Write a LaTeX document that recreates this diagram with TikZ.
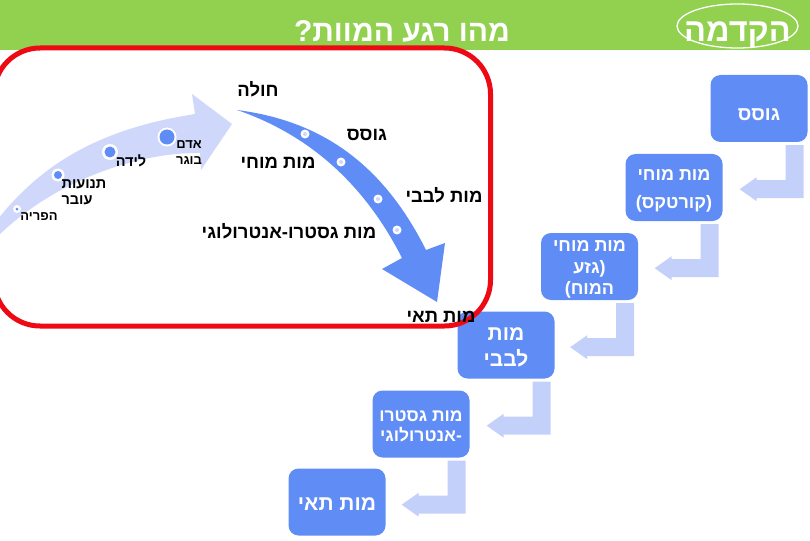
\documentclass[tikz,border=0pt]{standalone}
\usepackage{fontspec}
\usetikzlibrary{positioning,shapes.geometric}
\TeXXeTstate=1
\newfontfamily\hebfont[Script=Hebrew]{Liberation Sans}
\newcommand{\heb}[1]{\beginR #1\endR}
\definecolor{bandgreen}{HTML}{92D050}
\definecolor{boxblue}{HTML}{5F8CF5}
\definecolor{palearrow}{HTML}{CFD8FA}
\definecolor{bentblue}{HTML}{C3D0FA}
\definecolor{framered}{HTML}{EE0A14}
\tikzset{
  stagebox/.style={fill=boxblue,rounded corners=10pt,minimum width=97pt,minimum height=67pt,inner sep=0pt},
  boxtext/.style={align=center,text=white,inner sep=0pt,font=\hebfont\bfseries\fontsize{18}{24}\selectfont},
  arclabel/.style={text=black,font=\hebfont\bfseries\fontsize{18.5}{22}\selectfont,inner sep=0pt},
  smalllabel/.style={text=black,font=\hebfont\bfseries\fontsize{13}{16}\selectfont,inner sep=0pt},
  bentarrow/.style={fill=bentblue,draw=none},
}
\begin{document}
\begin{tikzpicture}[x=1pt,y=-1pt,line join=round]
\useasboundingbox (0,0) rectangle (810,540);
\clip (0,0) rectangle (810,540);
\fill[bandgreen] (0,0) rectangle (810,50);
\node[text=white,font=\hebfont\bfseries\fontsize{30}{34}\selectfont,inner sep=0pt] (title) at (402,31) {\heb{מהו רגע המוות?}};
\node[draw=white,line width=1.3pt,ellipse,minimum width=121pt,minimum height=44pt,inner sep=0pt] (section) at (737.5,26) {};
\node[text=white,inner sep=0pt,font=\hebfont\bfseries\fontsize{32.5}{36}\selectfont] (sectiontext) at ([yshift=-9pt]section.center) {\heb{הקדמה}};
% rising arrow
\fill[palearrow] (-2,219) .. controls (45,160) and (105,128) .. (195,114) -- (192,94) -- (232,124) -- (201,170)
  -- (200,153) .. controls (140,152) and (55,180) .. (-2,236) -- cycle;
% falling arrow
\fill[boxblue] (237,110) .. controls (315,120) and (380,158) .. (426,250) -- (445,243) -- (437,302) -- (382,269)
  -- (402,258) .. controls (365,185) and (310,135) .. (237,110) -- cycle;
\foreach \px/\py/\ro/\ri in {17/209/4/1.5,58/175/6.5/4,110/152/8/5.5,167/137/9.5/7.5}{
  \fill[white] (\px,\py) circle (\ro);
  \fill[boxblue] (\px,\py) circle (\ri);
}
\foreach \px/\py in {305/134,341/162,378/199,397/230}{
  \fill[white] (\px,\py) circle (4.5);
  \fill[palearrow] (\px,\py) circle (2);
}
% boxes
\node[stagebox] (gosses) at (759,108.5) {};
\node[stagebox] (cortex) at (674,187.5) {};
\node[stagebox] (stem) at (589.5,266.5) {};
\node[stagebox] (heart) at (506,345) {};
\node[stagebox] (gastro) at (421,424) {};
\node[stagebox] (cell) at (337,502) {};
\node[boxtext,font=\hebfont\bfseries\fontsize{19.5}{24}\selectfont] (gossestext) at ([yshift=-6pt]gosses.center) {\heb{גוסס}};
\node[boxtext] (cortextext) at ([yshift=-3.5pt]cortex.center) {\heb{מות מוחי}\\[4pt]\heb{(קורטקס)}};
\node[boxtext,font=\hebfont\bfseries\fontsize{18}{21.5}\selectfont] (stemtext) at ([yshift=-3pt]stem.center) {\heb{מות מוחי}\\\heb{(גזע}\\\heb{המוח)}};
\node[boxtext,font=\hebfont\bfseries\fontsize{21}{26}\selectfont] (hearttext) at ([yshift=-2.5pt]heart.center) {\heb{מות}\\\heb{לבבי}};
\node[boxtext,font=\hebfont\bfseries\fontsize{17.5}{20}\selectfont] (gastrotext) at ([yshift=-2pt]gastro.center) {\heb{מות גסטרו}\\\heb{-אנטרולוגי}};
\node[boxtext,font=\hebfont\bfseries\fontsize{21}{24}\selectfont] (celltext) at ([yshift=-2pt]cell.center) {\heb{מות תאי}};
% bent arrows
\foreach \from in {gosses,cortex,stem,heart,gastro}{
  \fill[bentarrow,shift={(\from.south east)}] (-22,3) -- (-4,3) -- (-4,56) -- (-51,56) -- (-51,59) -- (-68,47)
    -- (-51,35) -- (-51,38) -- (-22,38) -- cycle;
}
% frame
\draw[framered,line width=5pt,rounded corners=46pt] (-6,48) rectangle (490.5,326);
% labels
\node[arclabel] (sick) at (258,89) {\heb{חולה}};
\node[arclabel] (dying) at (367,135) {\heb{גוסס}};
\node[arclabel] (brain) at (278,163) {\heb{מות מוחי}};
\node[arclabel] (cardiac) at (444,195) {\heb{מות לבבי}};
\node[arclabel] (gi) at (289,231) {\heb{מות גסטרו-אנטרולוגי}};
\node[arclabel] (celldeath) at (441,317) {\heb{מות תאי}};
\node[smalllabel,align=center] (adult) at (189,153) {\heb{אדם}\\\heb{בוגר}};
\node[smalllabel,font=\hebfont\bfseries\fontsize{14.5}{16}\selectfont] (birth) at (131,161) {\heb{לידה}};
\node[smalllabel,align=left,font=\hebfont\bfseries\fontsize{14.5}{16}\selectfont] (fetal) at (84,192) {\heb{תנועות}\\\heb{עובר}};
\node[smalllabel] (concept) at (39,217) {\heb{הפריה}};
\end{tikzpicture}
\end{document}
